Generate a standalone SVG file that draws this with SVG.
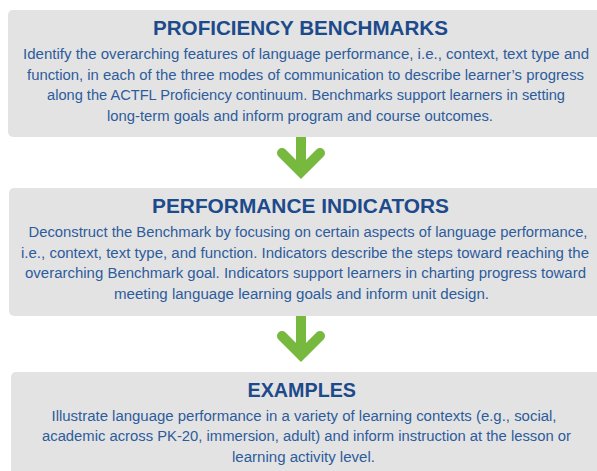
<svg xmlns="http://www.w3.org/2000/svg" width="597" height="471" viewBox="0 0 597 471">
<style>
.box{fill:#e3e3e3}
.title{font-family:"Liberation Sans",Arial,sans-serif;font-weight:bold;font-size:20px;fill:#1c4a8a}
.body{font-family:"Liberation Sans",Arial,sans-serif;font-size:15.5px;fill:#2d5c9c}
.arrow{fill:none;stroke:#77b83f;stroke-width:10}
.arm{fill:none;stroke:#77b83f;stroke-width:10;stroke-linecap:round;stroke-linejoin:miter}
</style>
<rect width="597" height="471" fill="#ffffff"/>
<g id="connectors">
  <line class="arrow" x1="301" y1="136" x2="301" y2="168"/>
  <polyline class="arm" points="282,153 301,172 320,153"/>
  <line class="arrow" x1="301" y1="316" x2="301" y2="351"/>
  <polyline class="arm" points="282,336 301,355 320,336"/>
</g>
<g id="node-benchmarks">
  <rect class="box" x="8" y="10" width="600" height="127" rx="5"/>
  <text class="title" x="153" y="35" textLength="295" lengthAdjust="spacingAndGlyphs">PROFICIENCY BENCHMARKS</text>
  <text class="body" x="23" y="59" textLength="566" lengthAdjust="spacingAndGlyphs">Identify the overarching features of language performance, i.e., context, text type and</text>
  <text class="body" x="27" y="79.5" textLength="557" lengthAdjust="spacingAndGlyphs">function, in each of the three modes of communication to describe learner’s progress</text>
  <text class="body" x="47" y="100" textLength="518" lengthAdjust="spacingAndGlyphs">along the ACTFL Proficiency continuum. Benchmarks support learners in setting</text>
  <text class="body" x="107" y="120.5" textLength="386" lengthAdjust="spacingAndGlyphs">long-term goals and inform program and course outcomes.</text>
</g>
<g id="node-indicators">
  <rect class="box" x="9" y="188" width="600" height="128" rx="5"/>
  <text class="title" x="152" y="213" textLength="297" lengthAdjust="spacingAndGlyphs">PERFORMANCE INDICATORS</text>
  <text class="body" x="28.5" y="237" textLength="559" lengthAdjust="spacingAndGlyphs">Deconstruct the Benchmark by focusing on certain aspects of language performance,</text>
  <text class="body" x="21" y="257.5" textLength="568" lengthAdjust="spacingAndGlyphs">i.e., context, text type, and function. Indicators describe the steps toward reaching the</text>
  <text class="body" x="25" y="278" textLength="561" lengthAdjust="spacingAndGlyphs">overarching Benchmark goal. Indicators support learners in charting progress toward</text>
  <text class="body" x="114" y="298.5" textLength="375" lengthAdjust="spacingAndGlyphs">meeting language learning goals and inform unit design.</text>
</g>
<g id="node-examples">
  <rect class="box" x="11" y="372" width="600" height="110" rx="5"/>
  <text class="title" x="247.5" y="397" textLength="108.5" lengthAdjust="spacingAndGlyphs">EXAMPLES</text>
  <text class="body" x="51.5" y="420.5" textLength="505" lengthAdjust="spacingAndGlyphs">Illustrate language performance in a variety of learning contexts (e.g., social,</text>
  <text class="body" x="42" y="441" textLength="529" lengthAdjust="spacingAndGlyphs">academic across PK-20, immersion, adult) and inform instruction at the lesson or</text>
  <text class="body" x="232" y="461.5" textLength="143" lengthAdjust="spacingAndGlyphs">learning activity level.</text>
</g>
</svg>
